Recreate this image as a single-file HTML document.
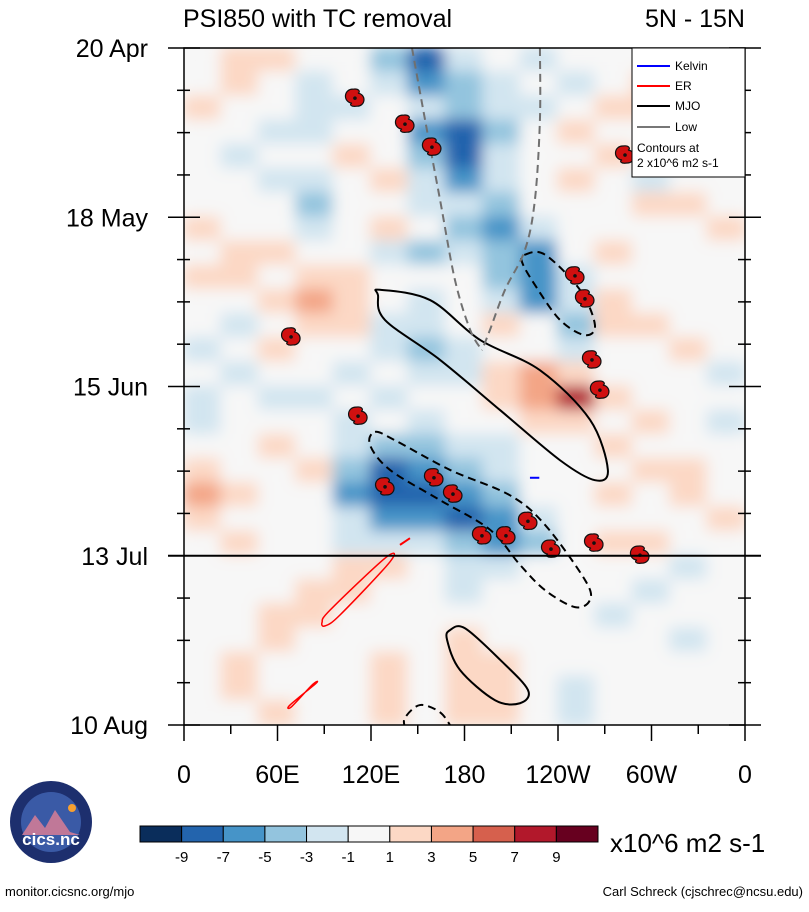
<!DOCTYPE html>
<html><head><meta charset="utf-8"><style>
body{margin:0;background:#fff;font-family:"Liberation Sans",Arial,sans-serif}
svg text{font-family:"Liberation Sans",Arial,sans-serif}
</style></head><body>
<svg id="chart" width="809" height="907">
<defs>
<clipPath id="plotclip"><rect x="184" y="48" width="561" height="677"/></clipPath>
<filter id="blur" x="-5%" y="-5%" width="110%" height="110%"><feGaussianBlur stdDeviation="7.5"/></filter>
</defs>
<rect x="184" y="48" width="561" height="677" fill="#f7f7f7"/>
<g clip-path="url(#plotclip)"><g id="heat" filter="url(#blur)"></g></g>
<g id="contours" clip-path="url(#plotclip)"></g>
<g id="tcs"></g>
<g id="axes"></g>
<text x="183" y="27" font-size="25">PSI850 with TC removal</text>
<text x="745" y="27" font-size="25" text-anchor="end">5N - 15N</text>
<g>
<rect x="632" y="48" width="113" height="129" fill="#fff" stroke="#000" stroke-width="1"/>
<line x1="637" y1="66" x2="670" y2="66" stroke="#0000ff" stroke-width="2"/><text x="675" y="70" font-size="12">Kelvin</text>
<line x1="637" y1="86" x2="670" y2="86" stroke="#ff0000" stroke-width="2"/><text x="675" y="90" font-size="12">ER</text>
<line x1="637" y1="106" x2="670" y2="106" stroke="#000" stroke-width="2"/><text x="675" y="110" font-size="12">MJO</text>
<line x1="637" y1="127" x2="670" y2="127" stroke="#777" stroke-width="2"/><text x="675" y="131" font-size="12">Low</text>
<text x="637" y="152" font-size="12">Contours at</text>
<text x="637" y="167" font-size="12">2 x10^6 m2 s-1</text>
</g>
<g>
<circle cx="51" cy="822" r="41" fill="#1d2f6e"/>
<circle cx="51" cy="822" r="30" fill="#3a5aa6"/>
<path d="M22 835 L35 815 L45 828 L55 810 L70 832 L80 835 Z" fill="#c07898"/>
<circle cx="72" cy="808" r="4" fill="#f7a030"/>
<text x="51" y="845" font-size="17" fill="#fff" text-anchor="middle" font-weight="bold">cics.nc</text>
</g>
<g id="cbar"></g>
<text x="610" y="852" font-size="26">x10^6 m2 s-1</text>
<text x="5" y="896" font-size="13">monitor.cicsnc.org/mjo</text>
<text x="803" y="896" font-size="13" text-anchor="end">Carl Schreck (cjschrec@ncsu.edu)</text>
</svg>
<script>
const NS="http://www.w3.org/2000/svg";
const lonCenters=[12,36,60,84,108,132,156,180,204,228,252,276,300,324,348];
const rowDays=4;
const field=[
[0,2,2,0,0,-4,-7,-2,0,-2,0,0,0,2,0],
[0,2,0,-2,0,-2,-5,-4,-2,0,-2,0,2,2,0],
[2,0,0,-2,-2,0,-2,-4,-2,-2,0,2,2,0,0],
[0,0,-2,-2,0,0,-5,-7,-4,0,2,0,0,0,2],
[0,-2,0,0,2,0,-4,-7,-2,0,0,2,0,-2,0],
[0,0,-2,-2,0,2,-2,-5,-2,0,2,0,-2,0,0],
[0,0,0,-4,0,0,-2,-2,-4,0,0,0,2,2,0],
[2,0,0,-2,0,2,0,-4,-5,-2,0,0,0,0,2],
[0,2,2,0,0,-2,-4,-2,-4,-5,0,2,0,0,0],
[2,2,0,2,2,0,0,0,-4,-6,-2,0,0,0,0],
[0,0,2,4,2,0,-2,0,-2,-5,-2,2,0,0,0],
[0,-2,0,2,2,-2,-2,0,2,0,-4,2,2,0,0],
[-2,0,2,0,0,-2,-4,-2,0,0,-2,0,0,2,0],
[0,-2,0,0,-2,0,-2,-2,2,4,2,0,0,0,-2],
[-2,0,-2,-2,0,-2,0,0,2,5,8,2,0,0,0],
[-2,0,0,0,-2,0,-2,0,0,2,2,0,2,0,-2],
[0,0,2,0,-2,-4,-4,-2,-2,0,0,2,0,0,0],
[2,0,0,2,-4,-7,-5,-4,-2,0,0,0,2,2,0],
[4,2,0,0,-5,-7,-7,-5,-4,0,0,2,0,2,0],
[2,0,0,0,-2,-5,-5,-7,-5,-2,0,0,0,0,2],
[0,2,0,0,-2,-2,-2,-4,-5,-4,0,2,2,0,0],
[0,0,0,0,2,2,0,-2,-2,0,0,0,0,-2,0],
[0,0,0,2,2,0,0,-2,0,0,0,0,-2,0,0],
[0,0,2,2,0,0,0,0,0,0,0,-2,0,0,0],
[0,0,2,0,0,0,0,2,0,0,0,0,0,-2,0],
[0,2,0,0,0,2,0,2,2,0,0,0,0,0,0],
[0,2,0,0,0,2,0,2,2,0,-2,0,0,0,0],
[0,0,2,0,0,2,0,2,2,0,-2,0,0,0,0]];
const levels=[-9,-7,-5,-3,-1,1,3,5,7,9];
const colors=["#0a2d5b","#2364ad","#4694c8","#93c4de","#d2e5f0","#f7f7f7","#fcd8c5","#f3a586","#d6604d","#b2182b","#67001f"];
const yTickLabels=["20 Apr","18 May","15 Jun","13 Jul","10 Aug"];
const yTickDays=[0,28,56,84,112];
const xTickLabels=["0","60E","120E","180","120W","60W","0"];
const xTickLons=[0,60,120,180,240,300,360];
const mjoSolid1=[[125.8,40],[157.9,41.7],[190,48.3],[228.4,53.3],[260.5,61.5],[272,69.8],[263.7,71.5],[241.3,68.2],[202.8,59.9],[164.3,51.6],[129,45],[124.5,40.9]];
const mjoSolid2=[[170.7,96.3],[180.3,96],[202.8,101.2],[220.7,106.2],[215.6,108.4],[199.6,107.9],[177.1,102.9],[168.8,97.9]];
const mjoDash1=[[218.8,34.2],[231.7,34.2],[254.1,40],[263.7,45.8],[257.3,47.5],[241.3,45],[225.2,39.2],[216.9,35.4]];
const mjoDash2=[[122.6,63.5],[135.4,64.9],[170.7,69.8],[209.2,74],[231.7,78.9],[257.3,88],[260.5,91.3],[250.9,92.5],[231.7,89.7],[215.6,85.5],[196.4,79.7],[164.3,74.8],[132.2,69.8],[119.4,65.7]];
const mjoDash3=[[141.8,112.5],[141.8,110.8],[151.4,108.7],[164.3,109.9],[171.9,112.5]];
const lowLeft=[[146.3,0],[154.7,11.9],[164.3,25.1],[173.9,38.4],[183.6,46.6],[191.2,50]];
const lowRight=[[228.4,0],[228.4,11.9],[225.2,25.1],[218.8,33.4],[206,40],[196.4,46.6],[191.2,50]];
const er1=[[88.6,95],[93.7,93],[129,84.4],[132.2,85],[100.1,93.8],[90.5,95.6]];
const er2=[[68,108.7],[84.7,105.1],[82.1,105.4],[69.3,108.9]];
const er3=[[138.6,82.2],[145,81.1]];
const kelvin1=[[222,71.1],[228,71.1]];
const tcLon=[109.7,141.8,159.1,283,250.9,257.3,68.7,261.8,266.9,111.7,129,160.4,172.6,220.7,191.2,206.6,235.5,263.1,292.6];
const tcDay=[8.3,12.6,16.4,17.7,37.7,41.5,47.8,51.6,56.6,60.9,72.6,71.1,73.8,78.3,80.7,80.7,82.9,81.9,83.9];

const X0=184,X1=745,Y0=48,Y1=725,D=112;
const xs=l=>X0+l*(X1-X0)/360;
const ys=d=>Y0+d*(Y1-Y0)/D;
function colorFor(v){let i=0;while(i<levels.length&&v>levels[i])i++;return colors[i];}
function mk(tag,attrs,parent){const e=document.createElementNS(NS,tag);for(const k in attrs)e.setAttribute(k,attrs[k]);parent.appendChild(e);return e;}

const heat=document.getElementById('heat');
const cw=24;
field.forEach((row,r)=>row.forEach((v,c)=>{
  const x=xs(lonCenters[c]-cw/2),y=ys(r*rowDays);
  const rc=mk('rect',{x:x-1,y:y-1,width:xs(cw)-X0+2,height:ys(rowDays)-Y0+2,fill:colorFor(v)},heat);
  
  
}));

function smooth(pts,closed){
  const P=pts.map(p=>[xs(p[0]),ys(p[1])]);const n=P.length;
  let d=`M${P[0][0]},${P[0][1]}`;
  const g=i=>closed?P[(i+n)%n]:P[Math.max(0,Math.min(n-1,i))];
  const segs=closed?n:n-1;
  for(let i=0;i<segs;i++){const p0=g(i-1),p1=g(i),p2=g(i+1),p3=g(i+2);
    d+=` C${p1[0]+(p2[0]-p0[0])/6},${p1[1]+(p2[1]-p0[1])/6} ${p2[0]-(p3[0]-p1[0])/6},${p2[1]-(p3[1]-p1[1])/6} ${p2[0]},${p2[1]}`;}
  return d+(closed?'Z':'');
}
const cg=document.getElementById('contours');
function contour(pts,closed,stroke,dash,name,w){
  const p=mk('path',{d:smooth(pts,closed),fill:'none',stroke:stroke,'stroke-width':w||2,'stroke-dasharray':dash||'none'},cg);
  
  
}
contour(mjoSolid1,true,'#000','', 'mjo-positive-contour-1');
contour(mjoSolid2,true,'#000','', 'mjo-positive-contour-2');
contour(mjoDash1,true,'#000','8 5','mjo-negative-contour-1');
contour(mjoDash2,true,'#000','8 5','mjo-negative-contour-2');
contour(mjoDash3,false,'#000','8 5','mjo-negative-contour-3');
contour(lowLeft,false,'#707070','8 5','low-contour-left');
contour(lowRight,false,'#707070','8 5','low-contour-right');
contour(er1,true,'#f00','','er-contour-1',1.5);
contour(er2,true,'#f00','','er-contour-2',1.5);
contour(er3,false,'#f00','','er-contour-3',2);
contour(kelvin1,false,'#00f','','kelvin-contour',2);

const tg=document.getElementById('tcs');
tcLon.forEach((l,i)=>{
  const x=xs(l),y=ys(tcDay[i]);
  const g=mk('g',{transform:`translate(${x},${y})`},tg);
  
  
  mk('path',{d:'M-2,-9 C4,-10 6,-6 3,-5 A6,6 0 0 1 2,8 C-4,9 -6,6 -3,5 A6,6 0 0 1 -2,-9Z',fill:'#d01010',stroke:'#111','stroke-width':1.2},g);
  mk('circle',{cx:0,cy:0,r:1.8,fill:'#111'},g);
});

const ax=document.getElementById('axes');
mk('rect',{x:X0,y:Y0,width:X1-X0,height:Y1-Y0,fill:'none',stroke:'#000','stroke-width':1.5},ax);
for(let d=0;d<=D;d+=7){const major=d%28===0;const y=ys(d);
  mk('line',{x1:major?168:177,y1:y,x2:major?200:190,y2:y,stroke:'#000','stroke-width':1.5},ax);
  mk('line',{x1:major?729:738,y1:y,x2:major?761:751,y2:y,stroke:'#000','stroke-width':1.5},ax);}
yTickLabels.forEach((t,i)=>{const e=mk('text',{x:148,y:ys(yTickDays[i])+9,'font-size':25,'text-anchor':'end'},ax);e.textContent=t;
  
  });
for(let l=0;l<=360;l+=30){const major=l%60===0;const x=xs(l);
  mk('line',{x1:x,y1:Y1,x2:x,y2:Y1+(major?16:9),stroke:'#000','stroke-width':1.5},ax);}
xTickLabels.forEach((t,i)=>{const e=mk('text',{x:xs(xTickLons[i]),y:783,'font-size':25,'text-anchor':'middle'},ax);e.textContent=t;
  
  });
mk('line',{x1:168,y1:ys(84),x2:761,y2:ys(84),stroke:'#000','stroke-width':2},ax);

const cb=document.getElementById('cbar');
const bx=140,bw=458/11;
colors.forEach((c,i)=>{const r=mk('rect',{x:bx+i*bw,y:826,width:bw,height:16,fill:c,stroke:'#000','stroke-width':1},cb);
  
  });
levels.forEach((v,i)=>{const e=mk('text',{x:bx+(i+1)*bw,y:862,'font-size':15,'text-anchor':'middle'},cb);e.textContent=v;
  
  });
</script>
</body></html>
